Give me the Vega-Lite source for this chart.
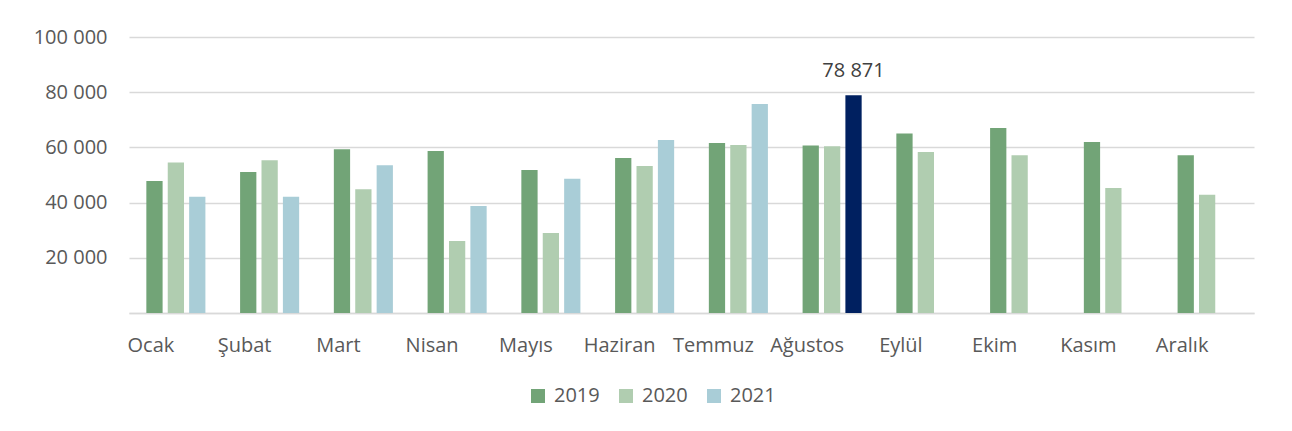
{
  "$schema": "https://vega.github.io/schema/vega-lite/v6.json",
  "width": 1125,
  "height": 276,
  "autosize": {"type": "none"},
  "padding": {"left": 129, "top": 37, "right": 38, "bottom": 118},
  "background": "white",
  "config": {
    "locale": {"number": {"decimal": ",", "thousands": " ", "grouping": [3], "currency": ["", ""]}},
    "view": {"stroke": null},
    "font": "Open Sans",
    "axis": {"labelFont": "Open Sans", "labelColor": "#595959", "labelFontSize": 20},
    "legend": {"labelFont": "Open Sans", "labelColor": "#595959", "labelFontSize": 20}
  },
  "data": {
    "values": [
      {"month": "Ocak", "year": "2019", "value": 47800},
      {"month": "Ocak", "year": "2020", "value": 54500},
      {"month": "Ocak", "year": "2021", "value": 42100},
      {"month": "Şubat", "year": "2019", "value": 51100},
      {"month": "Şubat", "year": "2020", "value": 55300},
      {"month": "Şubat", "year": "2021", "value": 42100},
      {"month": "Mart", "year": "2019", "value": 59300},
      {"month": "Mart", "year": "2020", "value": 44800},
      {"month": "Mart", "year": "2021", "value": 53500},
      {"month": "Nisan", "year": "2019", "value": 58700},
      {"month": "Nisan", "year": "2020", "value": 26100},
      {"month": "Nisan", "year": "2021", "value": 38800},
      {"month": "Mayıs", "year": "2019", "value": 51800},
      {"month": "Mayıs", "year": "2020", "value": 29000},
      {"month": "Mayıs", "year": "2021", "value": 48600},
      {"month": "Haziran", "year": "2019", "value": 56200},
      {"month": "Haziran", "year": "2020", "value": 53300},
      {"month": "Haziran", "year": "2021", "value": 62700},
      {"month": "Temmuz", "year": "2019", "value": 61600},
      {"month": "Temmuz", "year": "2020", "value": 60900},
      {"month": "Temmuz", "year": "2021", "value": 75700},
      {"month": "Ağustos", "year": "2019", "value": 60700},
      {"month": "Ağustos", "year": "2020", "value": 60400},
      {"month": "Ağustos", "year": "2021", "value": 78871},
      {"month": "Eylül", "year": "2019", "value": 65000},
      {"month": "Eylül", "year": "2020", "value": 58300},
      {"month": "Ekim", "year": "2019", "value": 67000},
      {"month": "Ekim", "year": "2020", "value": 57200},
      {"month": "Kasım", "year": "2019", "value": 62000},
      {"month": "Kasım", "year": "2020", "value": 45300},
      {"month": "Aralık", "year": "2019", "value": 57200},
      {"month": "Aralık", "year": "2020", "value": 42800}
    ]
  },
  "encoding": {
    "x": {
      "field": "month",
      "type": "nominal",
      "sort": null,
      "scale": {"paddingInner": 0.37, "paddingOuter": 0.185},
      "axis": {
        "title": null,
        "labelAngle": 0,
        "ticks": false,
        "domainColor": "#d9d9d9",
        "domainWidth": 1.5,
        "labelPadding": 22,
        "labelOffset": -25
      }
    },
    "xOffset": {
      "field": "year",
      "type": "nominal",
      "scale": {"domain": ["2019", "2020", "2021"], "paddingInner": 0.24, "paddingOuter": 0}
    },
    "y": {
      "field": "value",
      "type": "quantitative",
      "scale": {"domain": [0, 100000]},
      "axis": {
        "title": null,
        "values": [0, 20000, 40000, 60000, 80000, 100000],
        "labelExpr": "datum.value == 0 ? '' : format(datum.value, ',')",
        "ticks": false,
        "domain": false,
        "gridColor": "#d9d9d9",
        "gridWidth": 1.5,
        "labelPadding": 22
      }
    }
  },
  "layer": [
    {
      "mark": {"type": "bar"},
      "encoding": {
        "color": {
          "condition": {"test": "datum.month == 'Ağustos' && datum.year == '2021'", "value": "#002060"},
          "field": "year",
          "type": "nominal",
          "scale": {"domain": ["2019", "2020", "2021"], "range": ["#72A477", "#B0CDB0", "#A9CDD7"]},
          "legend": {
            "title": null,
            "orient": "none",
            "direction": "horizontal",
            "legendX": 399,
            "legendY": 349,
            "symbolType": "square",
            "symbolSize": 196,
            "symbolStrokeWidth": 0,
            "labelOffset": 6,
            "columnPadding": 16,
            "padding": 0
          }
        }
      }
    },
    {
      "transform": [{"filter": "datum.month == 'Ağustos' && datum.year == '2021'"}],
      "mark": {"type": "text", "baseline": "bottom", "dy": -14, "fontSize": 20, "color": "#404040", "font": "Open Sans"},
      "encoding": {
        "text": {"field": "value", "type": "quantitative", "format": ","}
      }
    }
  ]
}
